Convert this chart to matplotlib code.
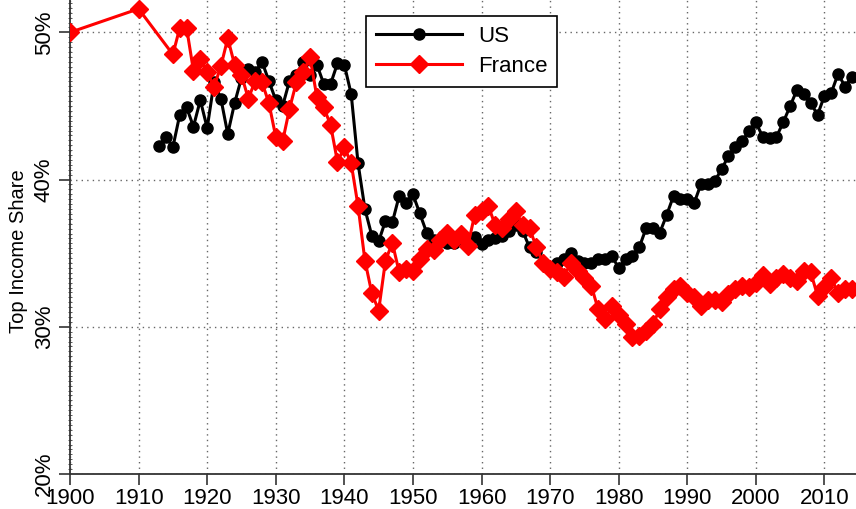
import numpy as np
import matplotlib
matplotlib.use("Agg")
import matplotlib.pyplot as plt
from matplotlib.ticker import MultipleLocator, FuncFormatter

plt.rcParams['font.family'] = ['Liberation Sans', 'DejaVu Sans']

# data (top income share, %)
us_years = list(range(1913, 2015))
us_share = [42.3, 42.9, 42.2, 44.4, 44.9, 43.6, 45.4, 43.5, 46.6, 45.5,
            43.1, 45.2, 46.9, 47.5, 47.3, 48.0, 46.7, 45.4, 45.0, 46.7,
            47.1, 48.0, 47.1, 47.8, 46.5, 46.5, 47.9, 47.8, 45.8, 41.1,
            38.0, 36.2, 35.8, 37.2, 37.1, 38.9, 38.4, 39.0, 37.7, 36.4,
            35.9, 35.9, 35.7, 35.7, 35.9, 35.9, 36.1, 35.6, 35.9, 36.0,
            36.2, 36.5, 36.9, 36.5, 35.4, 35.1, 34.3, 33.9, 34.3, 34.6,
            35.0, 34.5, 34.3, 34.3, 34.6, 34.6, 34.8, 34.0, 34.6, 34.8,
            35.4, 36.7, 36.7, 36.4, 37.6, 38.9, 38.7, 38.7, 38.4, 39.7,
            39.7, 39.9, 40.7, 41.6, 42.2, 42.6, 43.3, 43.9, 42.9, 42.8,
            42.9, 43.9, 45.0, 46.1, 45.8, 45.2, 44.4, 45.7, 45.9, 47.2,
            46.3, 47.0]

fr_years = [1900, 1910] + list(range(1915, 2015))
fr_share = [50.0, 51.6,
            48.5, 50.3, 50.3, 47.4, 48.2, 47.3, 46.3, 47.7, 49.6, 47.8,
            47.1, 45.5, 46.7, 46.6, 45.2, 42.9, 42.6, 44.8, 46.6, 47.3,
            48.3, 45.6, 44.9, 43.7, 41.2, 42.2, 41.1, 38.2, 34.5, 32.3,
            31.1, 34.5, 35.7, 33.7, 33.9, 33.8, 34.6, 35.3, 35.2, 35.9,
            36.4, 35.9, 36.3, 35.5, 37.6, 37.9, 38.2, 36.9, 36.7, 37.3,
            37.9, 36.9, 36.7, 35.4, 34.3, 33.9, 33.7, 33.4, 34.3, 33.8,
            33.3, 32.8, 31.2, 30.5, 31.4, 30.8, 30.2, 29.3, 29.4, 29.7,
            30.2, 31.2, 32.0, 32.6, 32.8, 32.3, 32.0, 31.4, 31.8, 31.8,
            31.7, 32.2, 32.6, 32.8, 32.7, 33.0, 33.5, 32.9, 33.3, 33.6,
            33.3, 33.1, 33.8, 33.7, 32.1, 32.7, 33.3, 32.3, 32.6, 32.6]

fig = plt.figure(figsize=(8.56, 5.09), dpi=100)
ax = fig.add_axes([70 / 856, 35 / 509, 786 / 856, 474 / 509])

ax.plot(us_years, us_share, color='black', lw=2.2, marker='o', ms=8,
        label='US', zorder=3)
ax.plot(fr_years, fr_share, color='red', lw=2.2, marker='D', ms=9,
        label='France', zorder=4)

ax.set_xlim(1900, 2014.6)
ax.set_ylim(20, 52.2)
ax.xaxis.set_major_locator(MultipleLocator(10))
ax.yaxis.set_major_locator(MultipleLocator(10))
ax.yaxis.set_minor_locator(MultipleLocator(1 / 3))
ax.yaxis.set_major_formatter(FuncFormatter(lambda v, p: '%d%%' % v))

ax.grid(True, which='major', color='#666666', linestyle=(0, (1, 3)), lw=1)
ax.set_axisbelow(True)

for s in ['top', 'right']:
    ax.spines[s].set_visible(False)
for s in ['left', 'bottom']:
    ax.spines[s].set_linewidth(1.3)
    ax.spines[s].set_color('#333333')

ax.tick_params(axis='both', which='major', direction='out', length=8,
               width=1.2, color='#333333', labelsize=16)
ax.tick_params(axis='y', which='minor', direction='inout', length=3,
               width=0.7, color='#555555')
ax.tick_params(axis='x', pad=2)
ax.tick_params(axis='y', pad=3)
for lab in ax.get_yticklabels():
    lab.set_rotation(90)
    lab.set_va('center')

ax.set_ylabel('Top Income Share', fontsize=14.5)
ax.yaxis.set_label_coords(-0.054, 0.47)

leg = ax.legend(loc='upper left', bbox_to_anchor=(0.362, 0.99),
                fontsize=16, numpoints=1, handlelength=3.9,
                fancybox=False, framealpha=1, edgecolor='black',
                borderpad=0.45, labelspacing=0.4, handletextpad=0.7)
leg.get_frame().set_linewidth(1.2)

fig.savefig('out.png', dpi=100)
